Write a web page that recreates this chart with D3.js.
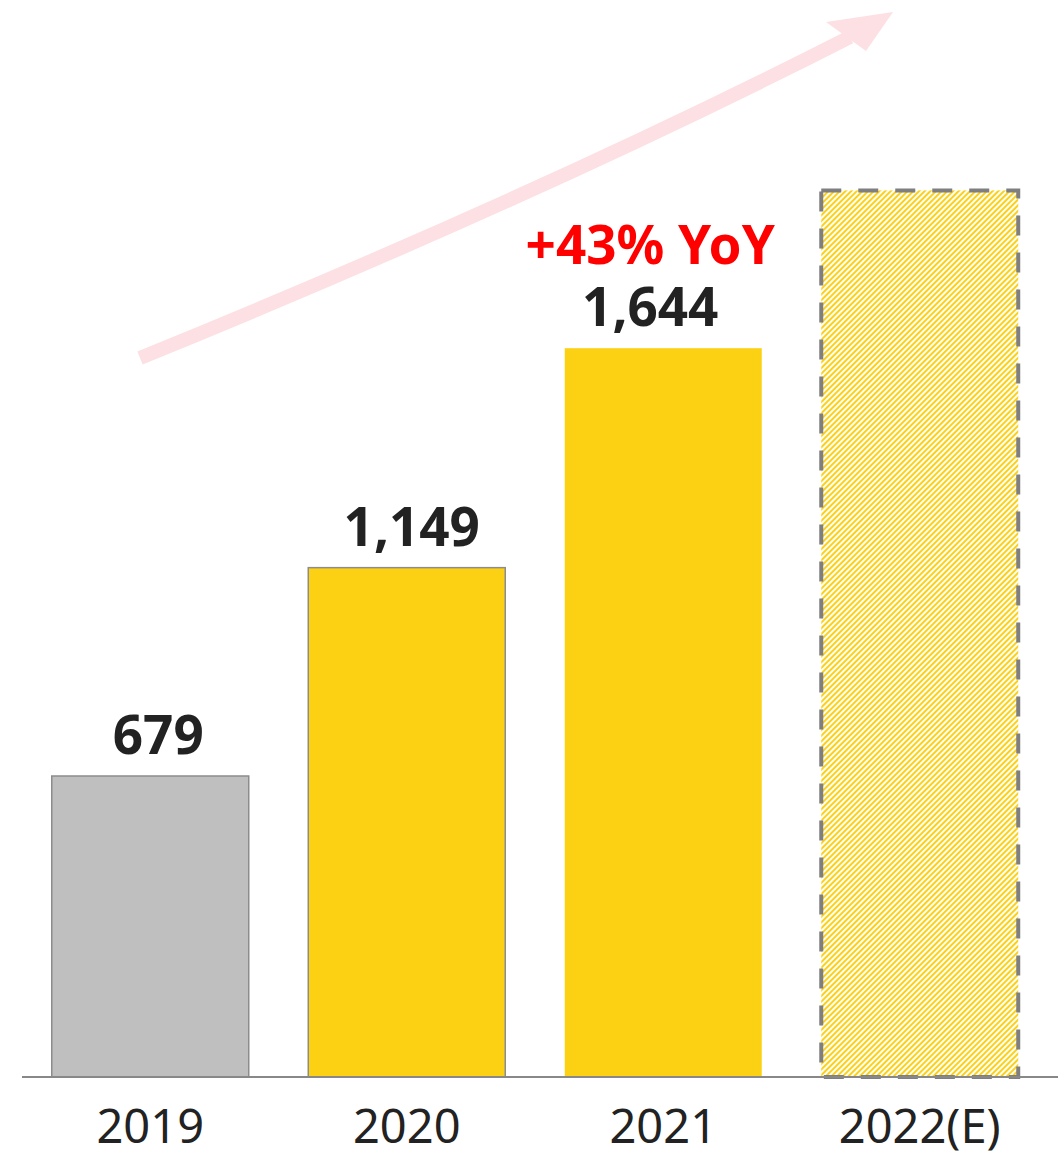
<!DOCTYPE html>
<html><head><meta charset="utf-8">
<script src="https://cdn.jsdelivr.net/npm/d3@7"></script>
<style>html,body{margin:0;padding:0;background:#fff;}svg{display:block;}</style>
</head><body>
<script>
const categories = ["2019", "2020", "2021", "2022(E)"];
const values = [679, 1149, 1644, 2000];
const valueLabels = ["679", "1,149", "1,644", ""];
const kinds = ["actual-grey", "actual", "actual", "estimate"];
const yoyLabel = "+43% YoY";
const yoyCategory = "2021";

const W = 1058, H = 1153;
const svg = d3.select("body").append("svg").attr("width", W).attr("height", H);

const defs = svg.append("defs");
const pat = defs.append("pattern").attr("id", "hatch").attr("patternUnits", "userSpaceOnUse")
  .attr("width", 4).attr("height", 4).attr("patternTransform", "rotate(45)");
pat.append("rect").attr("width", 4).attr("height", 4).attr("fill", "#fff");
pat.append("line").attr("x1", 1).attr("y1", 0).attr("x2", 1).attr("y2", 4)
  .attr("stroke", "#fdd113").attr("stroke-width", 2);

const x = d3.scaleBand().domain(categories).range([22, 1048]).paddingInner(0.232).paddingOuter(0.116);
const y = d3.scaleLinear().domain([0, 2000]).range([1077, 190.4]);

// arrow
const p0 = [140, 358], c = [540, 195], p2 = [850, 37];
svg.append("path").attr("d", `M${p0[0]},${p0[1]} Q${c[0]},${c[1]} ${p2[0]},${p2[1]}`)
  .attr("fill", "none").attr("stroke", "#fde0e3").attr("stroke-width", 14);
svg.append("path").attr("d", "M893,12 L826,22 L866,51 Z").attr("fill", "#fde0e3");

const data = categories.map((c, i) => ({c, v: values[i], label: valueLabels[i], kind: kinds[i]}));

svg.selectAll("rect.bar").data(data).enter().append("rect").attr("class", "bar")
  .attr("x", d => x(d.c)).attr("y", d => y(d.v))
  .attr("width", x.bandwidth()).attr("height", d => y(0) - y(d.v))
  .attr("fill", d => d.kind === "actual-grey" ? "#bfbfbf" : d.kind === "estimate" ? "url(#hatch)" : "#fdd113")
  .attr("stroke", d => d.kind === "estimate" ? "#7f7f7f" : (d.c === "2021" ? "none" : "#8c8c8c"))
  .attr("stroke-width", d => d.kind === "estimate" ? 4 : 1.5)
  .attr("stroke-dasharray", d => d.kind === "estimate" ? "20,17" : null);

// baseline
svg.append("line").attr("x1", 22).attr("x2", W).attr("y1", y(0)).attr("y2", y(0))
  .attr("stroke", "#888").attr("stroke-width", 2);

// value labels
const nudge = {"2019": 8, "2020": 5, "2021": -13};
svg.selectAll("text.val").data(data.filter(d => d.label)).enter().append("text").attr("class", "val")
  .attr("x", d => x(d.c) + x.bandwidth() / 2 + (nudge[d.c] || 0)).attr("y", d => y(d.v) - 22)
  .attr("text-anchor", "middle").attr("font-family", "'Noto Sans', 'Open Sans', sans-serif")
  .attr("font-weight", 700).attr("font-size", 53).attr("fill", "#222").text(d => d.label);

// YoY
svg.append("text").attr("x", x(yoyCategory) + x.bandwidth() / 2 - 13).attr("y", 264)
  .attr("text-anchor", "middle").attr("font-family", "'Noto Sans', 'Open Sans', sans-serif")
  .attr("font-weight", 700).attr("font-size", 53).attr("fill", "#ff0000").text(yoyLabel);

// axis labels
const axis = svg.append("g").attr("transform", `translate(0,${y(0)})`)
  .call(d3.axisBottom(x).tickSize(0).tickPadding(0));
axis.select(".domain").remove();
axis.selectAll("text").attr("dy", 0).attr("y", 66)
  .attr("font-family", "'Noto Sans', 'Open Sans', sans-serif").attr("font-size", 47).attr("fill", "#222");
</script>
</body></html>
